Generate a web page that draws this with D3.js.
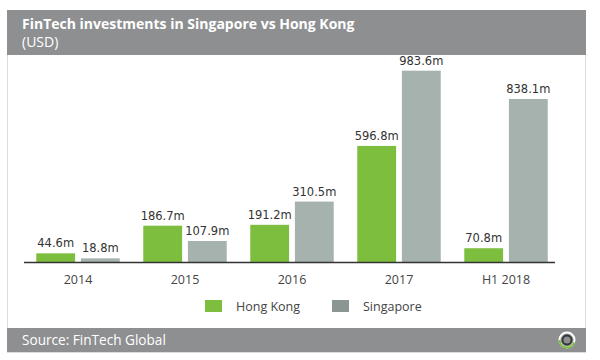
<!DOCTYPE html>
<html><head><meta charset="utf-8">
<script src="https://cdn.jsdelivr.net/npm/d3@7"></script>
<style>body{margin:0;background:#fff}svg{display:block}</style>
</head><body>
<script>
const categories = ["2014","2015","2016","2017","H1 2018"];
const seriesNames = ["Hong Kong","Singapore"];
const hongKong = [44.6,186.7,191.2,596.8,70.8];
const singapore = [18.8,107.9,310.5,983.6,838.1];
const labelsHK = ["44.6m","186.7m","191.2m","596.8m","70.8m"];
const labelsSG = ["18.8m","107.9m","310.5m","983.6m","838.1m"];
const title = "FinTech investments in Singapore vs Hong Kong";
const subtitle = "(USD)";
const source = "Source: FinTech Global";

const W=600,H=360;
const colors = {"Hong Kong":"#7dbe3f","Singapore":"#a5b2ae"};
const legendColors = {"Hong Kong":"#7dbe3f","Singapore":"#8b9592"};
const svg = d3.select("body").append("svg").attr("width",W).attr("height",H);

// frame
svg.append("rect").attr("x",7.5).attr("y",10.5).attr("width",578).attr("height",342)
  .attr("fill","#fff").attr("stroke","#dcdcdc");
svg.append("rect").attr("x",7).attr("y",10).attr("width",579).attr("height",45).attr("fill","#8e8f91");
svg.append("rect").attr("x",7).attr("y",328).attr("width",579).attr("height",24).attr("fill","#8e8f91");
svg.append("text").attr("x",22).attr("y",29).attr("fill","#fff")
  .attr("font-family","Open Sans").attr("font-weight","bold").attr("font-size",14).text(title);
svg.append("text").attr("x",22).attr("y",47).attr("fill","#fff")
  .attr("font-family","Open Sans").attr("font-size",14).text(subtitle);
svg.append("text").attr("x",22).attr("y",345).attr("fill","#fff")
  .attr("font-family","Open Sans").attr("font-size",13.6).text(source);
// logo
const lg = svg.append("g").attr("transform","translate(567,340)");
lg.append("circle").attr("r",7.5).attr("fill","none").attr("stroke","#fff").attr("stroke-width",2);
lg.append("path").attr("d",d3.arc()({innerRadius:6.5,outerRadius:8.5,startAngle:Math.PI*0.6,endAngle:Math.PI*1.5})).attr("fill","#7dbe3f");
lg.append("circle").attr("r",4.5).attr("fill","none").attr("stroke","#333").attr("stroke-width",1.8);

// scales
const x0 = d3.scaleBand().domain(categories).range([24.5,559.5]).paddingInner(0.22).paddingOuter(0.11);
const x1 = d3.scaleBand().domain(seriesNames).range([0,x0.bandwidth()]).paddingInner(0.13);
const y = d3.scaleLinear().domain([0,1000]).range([262,67.5]);

const data = categories.map((c,i)=>({cat:c, vals:[
  {name:"Hong Kong",v:hongKong[i],label:labelsHK[i]},
  {name:"Singapore",v:singapore[i],label:labelsSG[i]}]}));

const g = svg.append("g");
const groups = g.selectAll("g.grp").data(data).join("g").attr("transform",d=>`translate(${x0(d.cat)},0)`);
groups.selectAll("rect").data(d=>d.vals).join("rect")
  .attr("x",d=>x1(d.name)).attr("width",x1.bandwidth())
  .attr("y",d=>y(d.v)).attr("height",d=>y(0)-y(d.v)).attr("fill",d=>colors[d.name]);
groups.selectAll("text").data(d=>d.vals).join("text")
  .attr("x",d=>x1(d.name)+x1.bandwidth()/2).attr("y",d=>y(d.v)-6)
  .attr("text-anchor","middle").attr("font-family","DejaVu Sans").attr("font-size",11.5)
  .attr("fill","#333").text(d=>d.label);

// axis
const ax = svg.append("g").attr("transform",`translate(0,${y(0)})`)
  .call(d3.axisBottom(x0).tickSize(0).tickPadding(13).tickSizeOuter(0));
ax.select(".domain").attr("stroke","#333").attr("stroke-width",1.5).attr("d","M24,0.5H555");
ax.selectAll("text").attr("font-family","Open Sans").attr("font-size",12.5).attr("fill","#444");

// legend
const leg = svg.append("g");
const lx = [205,332];
seriesNames.forEach((s,i)=>{
  leg.append("rect").attr("x",lx[i]).attr("y",300).attr("width",17).attr("height",12).attr("fill",legendColors[s]);
  leg.append("text").attr("x",lx[i]+31).attr("y",311).attr("font-family","Open Sans").attr("font-size",12.5)
    .attr("fill","#444").text(s);
});
</script>
</body></html>
